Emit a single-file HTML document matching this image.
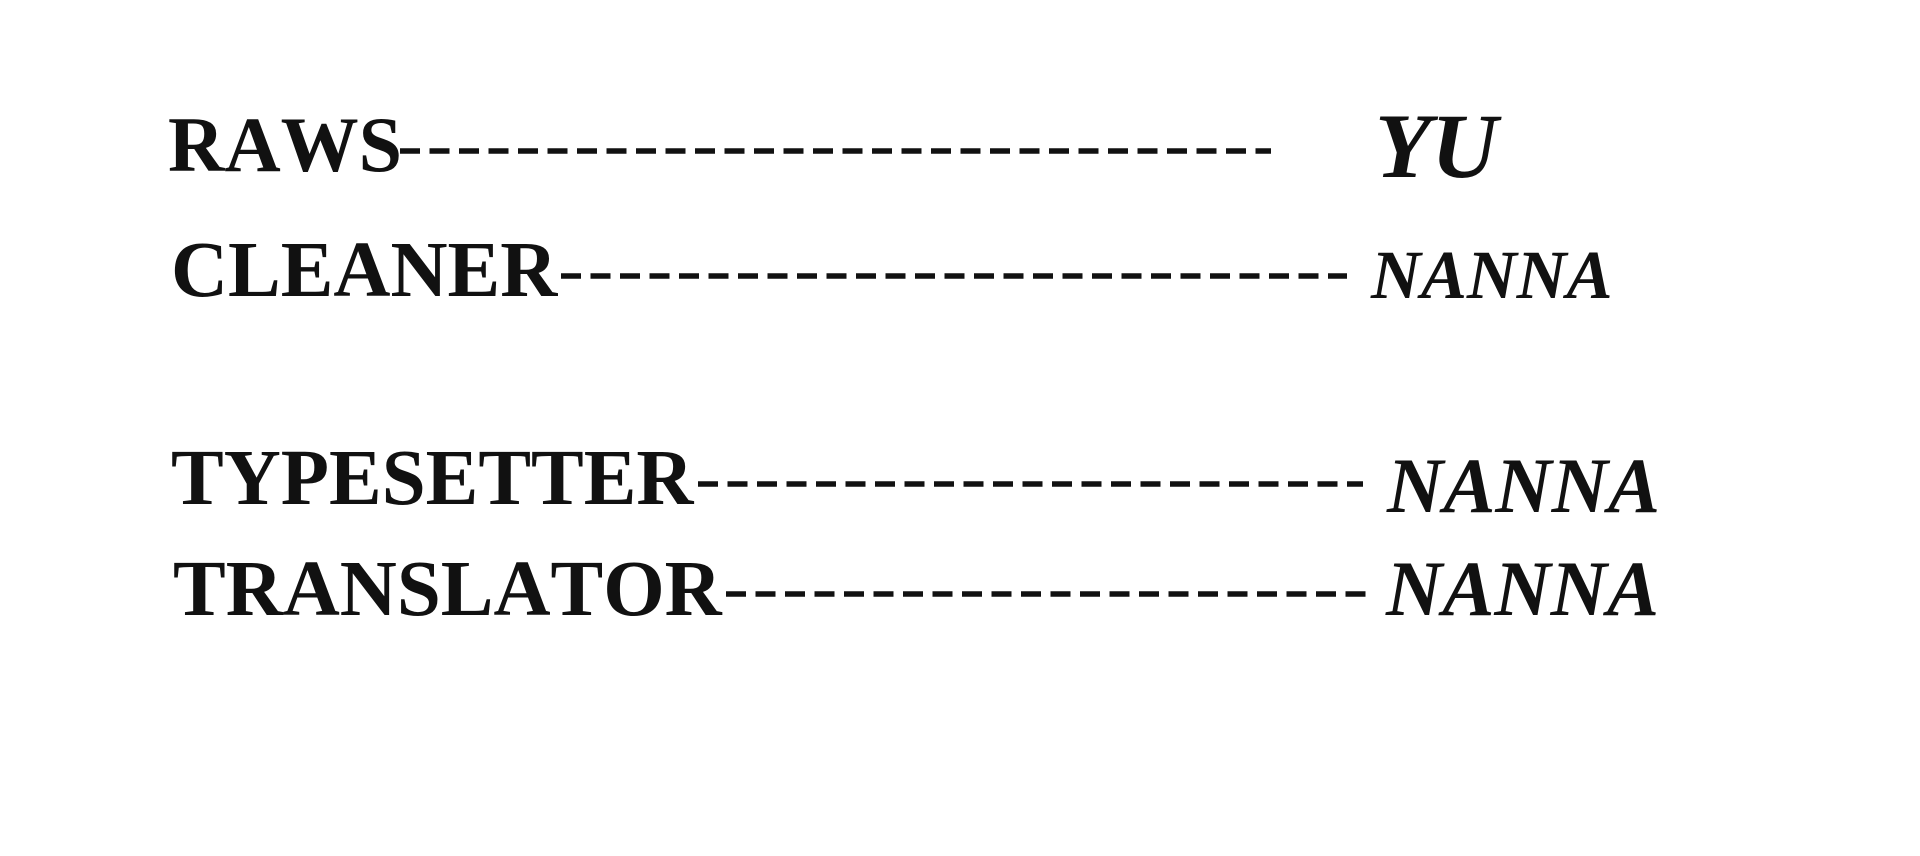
<!DOCTYPE html>
<html><head><style>html,body{margin:0;padding:0;background:#fff;}svg{display:block}
text{font-family:"Liberation Serif","Times New Roman",serif;font-weight:bold;fill:#111;font-kerning:none}
.i{font-style:italic}</style></head>
<body>
<svg width="1920" height="856" viewBox="0 0 1920 856" xmlns="http://www.w3.org/2000/svg">
<rect width="1920" height="856" fill="#fff"/>
<text x="168" y="171" style="font-size:78px">RAWS</text>
<text x="171" y="296" style="font-size:79px">CLEANER</text>
<text x="171" y="504" style="font-size:79px">TYPESETTER</text>
<text x="173" y="615" style="font-size:79px">TRANSLATOR</text>
<text class="i" x="1375" y="177" style="font-size:92px">YU</text>
<text class="i" x="1371" y="298" style="font-size:69px">NANNA</text>
<text class="i" x="1387" y="512" style="font-size:78px">NANNA</text>
<text class="i" x="1386" y="615" style="font-size:78px">NANNA</text>
<g stroke="#111" stroke-width="5.5" stroke-dasharray="20 9.5">
<line x1="400" y1="151" x2="1271" y2="151"/>
<line x1="561" y1="276" x2="1347" y2="276"/>
<line x1="698" y1="484" x2="1363" y2="484"/>
<line x1="726" y1="594" x2="1369" y2="594"/>
</g>
</svg>
</body></html>
